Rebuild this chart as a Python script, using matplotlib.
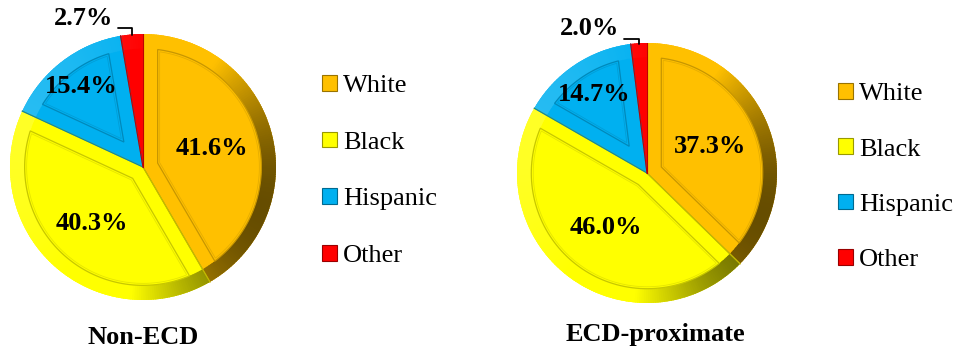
import numpy as np
import matplotlib
matplotlib.use("Agg")
import matplotlib.pyplot as plt
from matplotlib.patches import Patch, Polygon, Wedge
from matplotlib.colors import to_rgb

plt.rcParams['font.family'] = ['Liberation Serif', 'DejaVu Serif']

# data
groups = ['White', 'Black', 'Hispanic', 'Other']
non_ecd = [41.6, 40.3, 15.4, 2.7]
ecd_proximate = [37.3, 46.0, 14.7, 2.0]
titles = ['Non-ECD', 'ECD-proximate']

colors = ['#FFC000', '#FFFF00', '#00B0F0', '#FF0000']
FS = 19

W, H = 956, 356
fig = plt.figure(figsize=(W / 100, H / 100), dpi=100)


def px_axes(cx, cy, r):
    # axes box in figure fraction for a pie centred at pixel (cx, cy)
    return [(cx - r) / W, (H - cy - r) / H, 2 * r / W, 2 * r / H]


def inset_polygon(t1, t2, R, d):
    half = np.radians(t2 - t1) / 2
    off = np.degrees(np.arcsin(d / (R - d)))
    if (t2 - t1) < 2 * off + 4:
        return None
    mid = np.radians((t1 + t2) / 2)
    a = d / np.sin(half)
    apex = [a * np.cos(mid), a * np.sin(mid)]
    ang = np.radians(np.linspace(t1 + off, t2 - off, 80))
    pts = np.column_stack([(R - d) * np.cos(ang), (R - d) * np.sin(ang)])
    return np.vstack([apex, pts])


def shade(c, f):
    r, g, b = to_rgb(c)
    return (r * f, g * f, b * f)


def mix(c, other, t):
    a = np.array(to_rgb(c))
    b = np.array(to_rgb(other))
    return tuple(a + (b - a) * t)


def draw_pie(ax, values, label_r, small_xytext):
    wedges, _ = ax.pie(values, colors=colors, startangle=90, counterclock=False,
                       radius=1, wedgeprops=dict(linewidth=0))
    d = 0.11
    for w, c in zip(wedges, colors):
        t1, t2 = w.theta1, w.theta2
        # rim shading, shadow on the right side (opaque segments, no seams)
        steps = max(int(t2 - t1), 2)
        edges = np.linspace(t1, t2, steps + 1)
        for a1, a2 in zip(edges[:-1], edges[1:]):
            k = np.cos(np.radians((a1 + a2) / 2 - 160))
            if k < -0.25:
                fc = mix(c, 'black', 0.6 * (-k - 0.25) / 0.75)
            elif k > 0.3:
                fc = mix(c, 'white', 0.15 * (k - 0.3) / 0.7)
            else:
                fc = c
            ax.add_patch(Wedge((0, 0), 1, a1, min(a2 + 0.6, t2), width=d,
                               facecolor=fc, edgecolor='none', lw=0))
        poly = inset_polygon(t1, t2, 1, d)
        if poly is not None:
            ax.add_patch(Polygon(poly, closed=True, facecolor=c,
                                 edgecolor=shade(c, 0.78), lw=0.9))
            poly2 = inset_polygon(t1, t2, 1, d + 0.015)
            if poly2 is not None:
                ax.add_patch(Polygon(poly2, closed=True, facecolor='none',
                                     edgecolor=shade(c, 0.9), lw=0.6))
        # dark line along slice boundaries
        for t in (t1, t2):
            ax.plot([0, np.cos(np.radians(t))], [0, np.sin(np.radians(t))],
                    color=shade(c, 0.75), lw=0.8)

    for i, (w, v) in enumerate(zip(wedges, values)):
        mid = np.radians((w.theta1 + w.theta2) / 2)
        if i < 3:
            ax.text(label_r[i] * np.cos(mid), label_r[i] * np.sin(mid),
                    f'{v:.1f}%', ha='center', va='center', fontsize=FS,
                    fontweight='bold')
        else:
            ax.annotate(f'{v:.1f}%', xy=(np.cos(mid), np.sin(mid) - 0.005),
                        xytext=small_xytext, ha='center', va='center',
                        fontsize=FS, fontweight='bold',
                        arrowprops=dict(arrowstyle='-', color='black', lw=1.3,
                                        connectionstyle='angle,angleA=0,angleB=90,rad=0',
                                        relpos=(1.08, 0.05), shrinkA=0, shrinkB=0))
    ax.set_xlim(-1, 1)
    ax.set_ylim(-1, 1)
    ax.set_aspect('equal')
    ax.axis('off')
    return wedges


ax1 = fig.add_axes(px_axes(143, 167, 133))
draw_pie(ax1, non_ecd, [0.54, 0.57, 0.76], (-0.45, 1.12))
ax2 = fig.add_axes(px_axes(647, 173, 130))
draw_pie(ax2, ecd_proximate, [0.53, 0.53, 0.73], (-0.44, 1.11))

fig.text(143 / W, 1 - 338 / H, titles[0], ha='center', va='center',
         fontsize=FS, fontweight='bold')
fig.text(655 / W, 1 - 335 / H, titles[1], ha='center', va='center',
         fontsize=FS, fontweight='bold')

handles = [Patch(facecolor=c, edgecolor=shade(c, 0.6), lw=0.8) for c in colors]
for lx, ly, sp in [(322, 75, 1.3), (838, 83, 1.25)]:
    fig.legend(handles, groups, loc='upper left',
               bbox_to_anchor=(lx / W, 1 - ly / H), frameon=False,
               fontsize=FS, handlelength=0.55, handleheight=0.55,
               handletextpad=0.25, labelspacing=sp, borderpad=0,
               borderaxespad=0)

fig.savefig('out.png', dpi=100)
